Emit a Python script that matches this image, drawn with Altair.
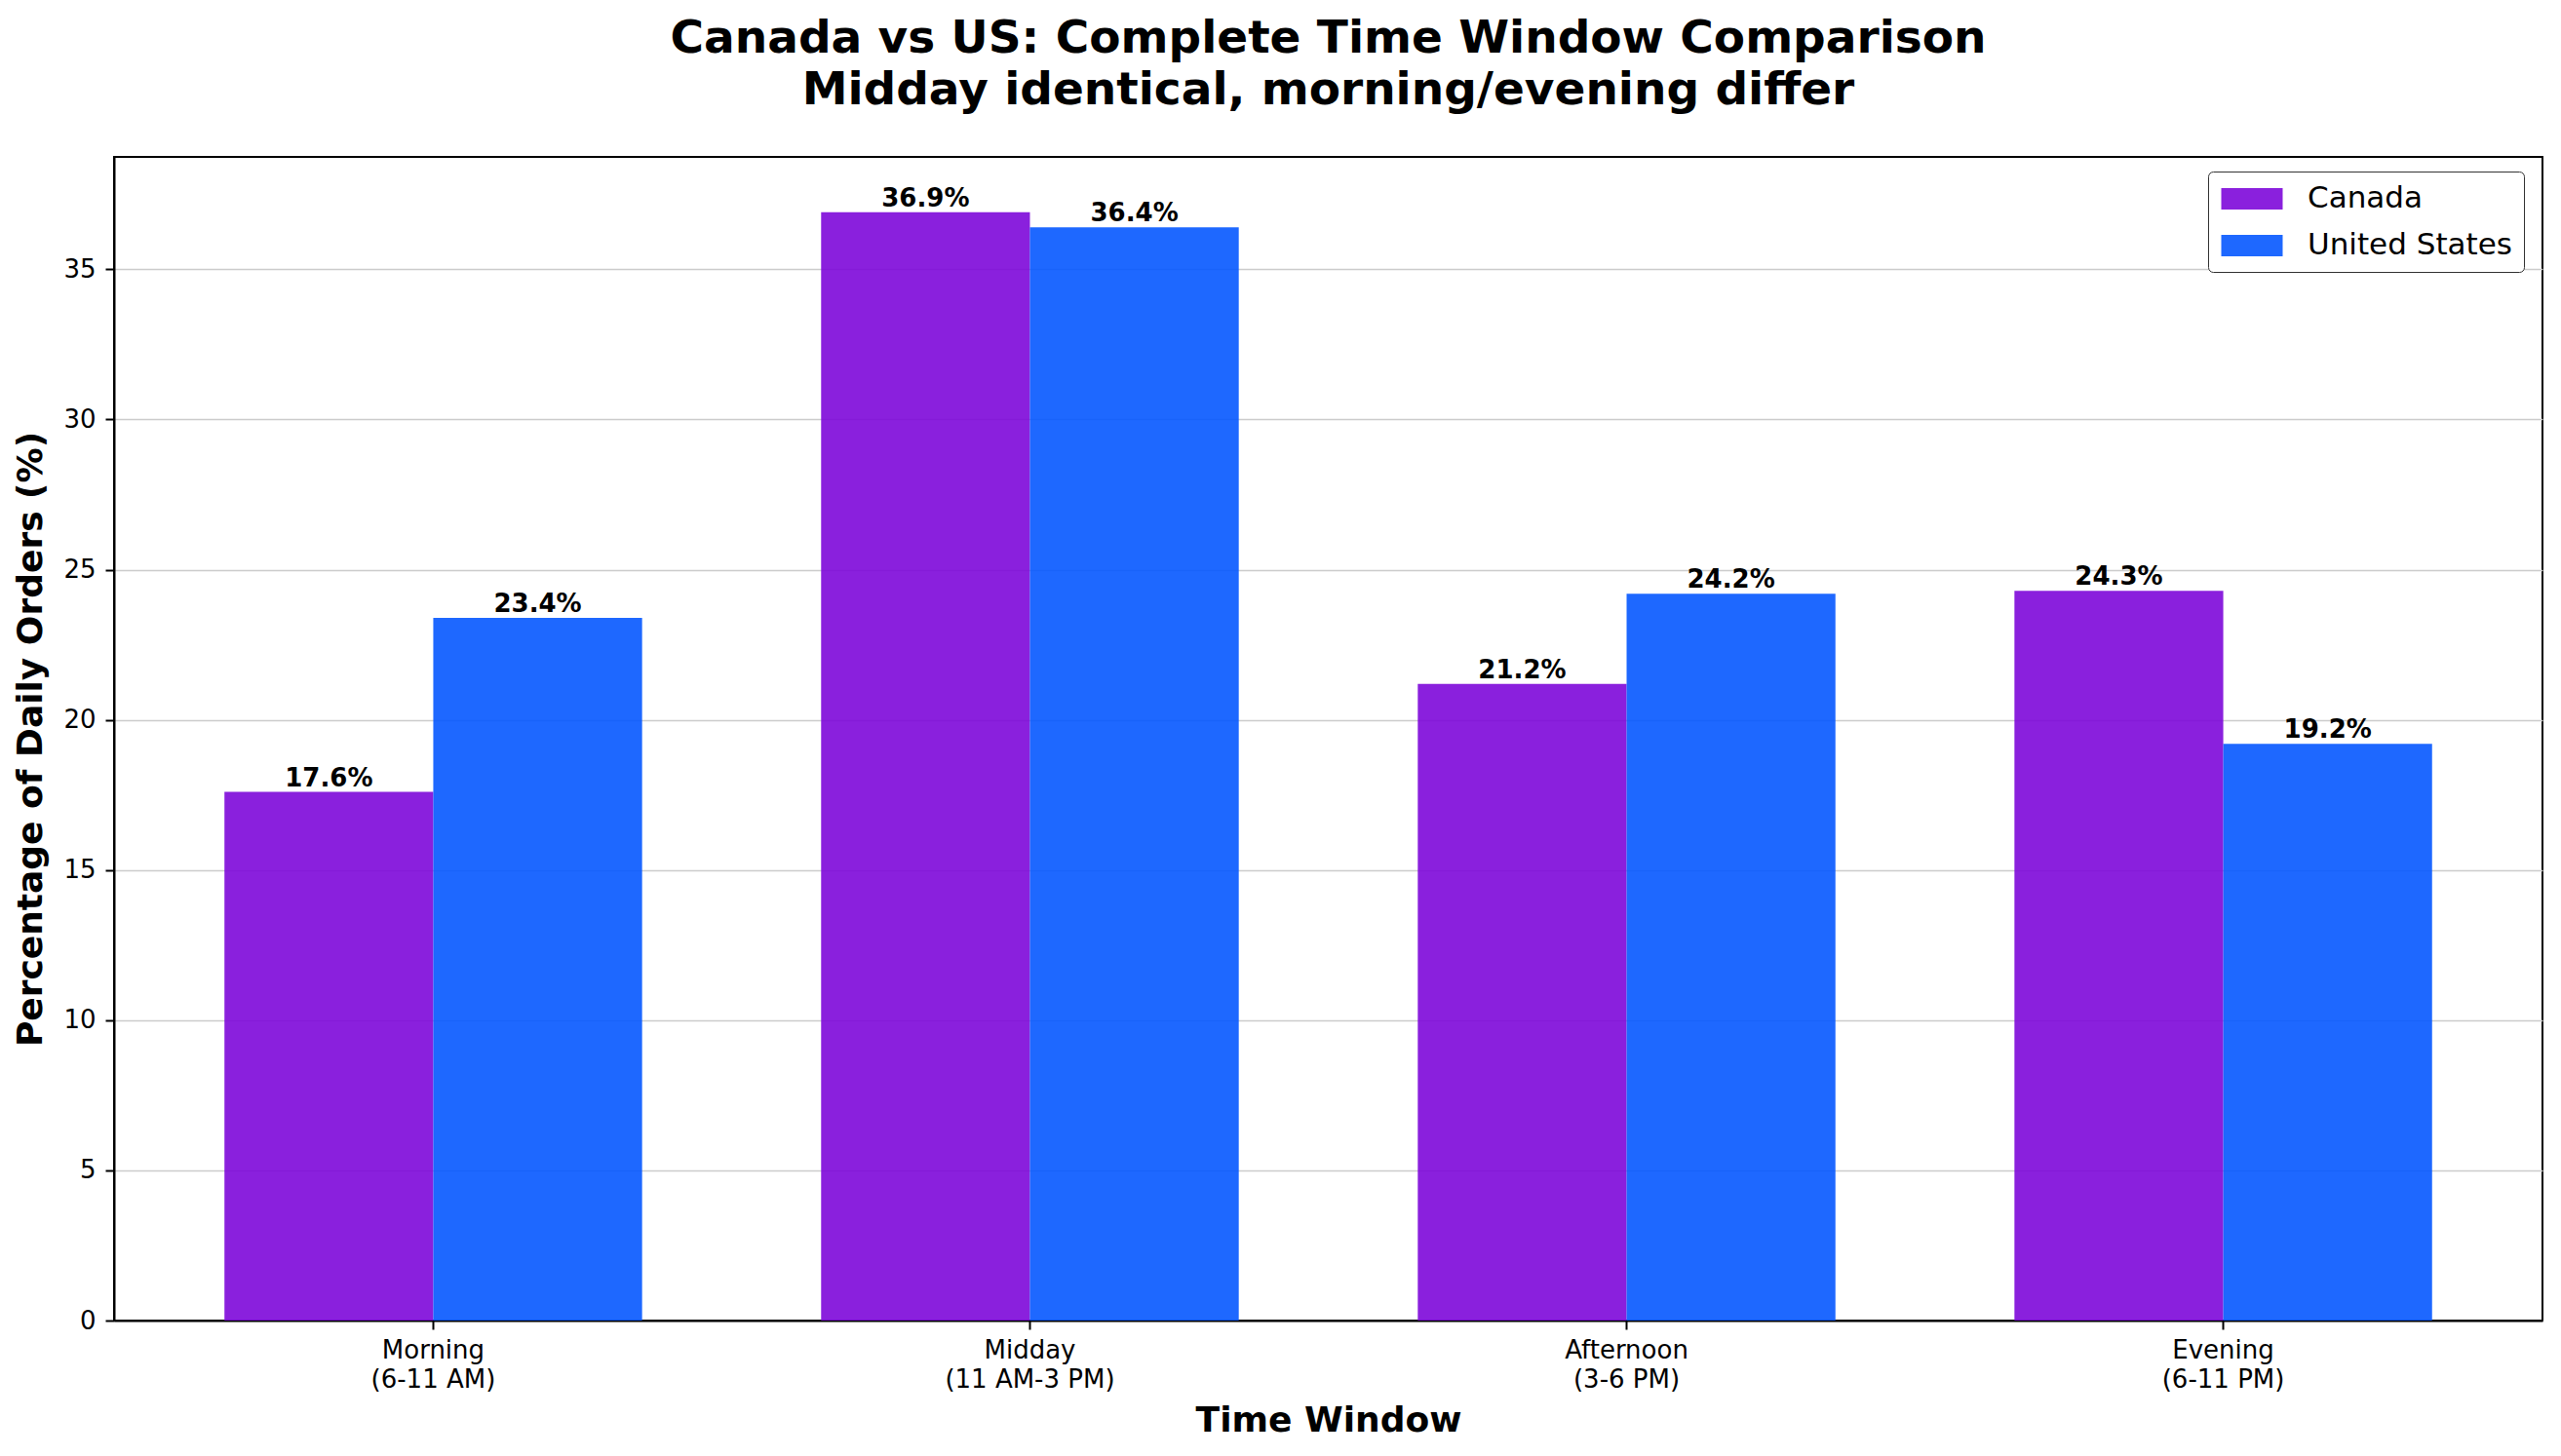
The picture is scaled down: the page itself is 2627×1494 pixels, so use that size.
import altair as alt
import pandas as pd

windows = ["Morning\n(6-11 AM)", "Midday\n(11 AM-3 PM)", "Afternoon\n(3-6 PM)", "Evening\n(6-11 PM)"]
countries = ["Canada", "United States"]
canada = [17.6, 36.9, 21.2, 24.3]
us = [23.4, 36.4, 24.2, 19.2]
colors = ["#7D08D9", "#0658FF"]

rows = []
for w, c, u in zip(windows, canada, us):
    rows.append({"window": w, "country": "Canada", "value": c, "label": f"{c:.1f}%"})
    rows.append({"window": w, "country": "United States", "value": u, "label": f"{u:.1f}%"})
df = pd.DataFrame(rows)

FONT = "DejaVu Sans"

x = alt.X("window:N", sort=windows,
          scale=alt.Scale(paddingInner=0.3, paddingOuter=0.185),
          axis=alt.Axis(title="Time Window", labelAngle=0, grid=False,
                        labelExpr="split(datum.label, '\\n')",
                        labelLineHeight=30, labelPadding=8, titlePadding=12))
xo = alt.XOffset("country:N", sort=countries, scale=alt.Scale(paddingInner=0, paddingOuter=0))
y = alt.Y("value:Q", scale=alt.Scale(domain=[0, 38.745], nice=False, zero=True),
          axis=alt.Axis(title="Percentage of Daily Orders (%)", values=[0, 5, 10, 15, 20, 25, 30, 35],
                        grid=True, gridColor="#cccccc", gridWidth=1.6,
                        labelPadding=10, titlePadding=14))

bars = alt.Chart(df).mark_bar(opacity=0.9).encode(
    x=x, xOffset=xo, y=y,
    color=alt.Color("country:N", sort=countries,
                    scale=alt.Scale(domain=countries, range=colors),
                    legend=alt.Legend(title=None, orient="none", legendX=2148, legendY=15,
                                      labelFontSize=31, labelFont=FONT, labelColor="black",
                                      labelLimit=400,
                                      symbolType="M-2,-0.7L2,-0.7L2,0.7L-2,0.7Z",
                                      symbolSize=992, symbolStrokeWidth=0, symbolOffset=17,
                                      padding=12, rowPadding=17, labelOffset=41,
                                      strokeColor="#333333", fillColor="white",
                                      cornerRadius=5))
)

labels = alt.Chart(df).mark_text(baseline="alphabetic", dy=-6, fontWeight="bold",
                                 fontSize=26, font=FONT, color="black").encode(
    x=x, xOffset=xo, y=y, text="label:N"
)

chart = alt.layer(bars, labels).properties(
    width=2491, height=1194,
    autosize=alt.AutoSizeParams(type="none"),
    padding={"left": 109, "top": 153, "right": 10, "bottom": 131},
    background="white",
    title=alt.Title(["Canada vs US: Complete Time Window Comparison", "Midday identical, morning/evening differ"],
                    fontSize=47, fontWeight="bold", font=FONT, color="black",
                    lineHeight=53, anchor="middle", offset=44),
).configure_view(stroke="black", strokeWidth=2).configure_axis(
    domainColor="black", domainWidth=2, tickColor="black", tickWidth=2, tickSize=9,
    labelFont=FONT, labelFontSize=26, labelColor="black",
    titleFont=FONT, titleFontSize=36, titleFontWeight="bold", titleColor="black",
)

chart.save("out.html", embed_options={"renderer": "svg", "actions": False})
